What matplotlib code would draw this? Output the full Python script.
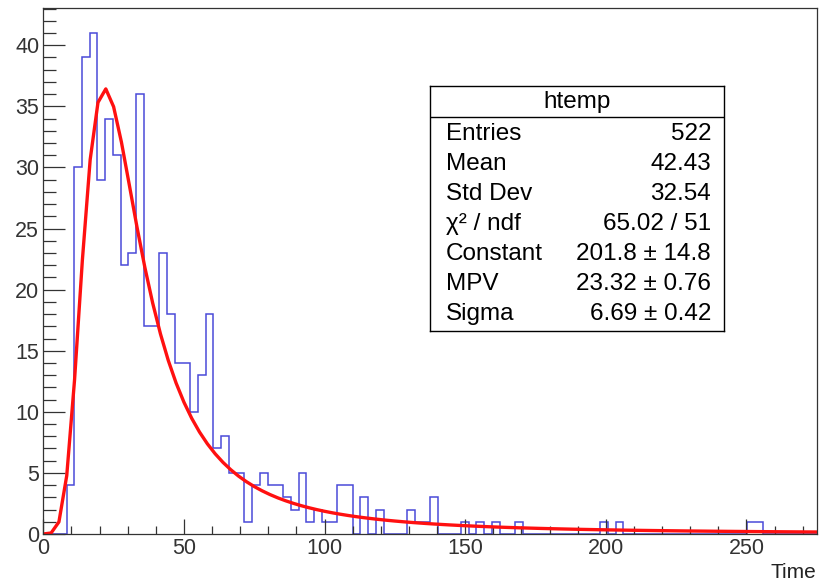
import numpy as np
import matplotlib
matplotlib.use('Agg')
import matplotlib.pyplot as plt
from matplotlib.ticker import MultipleLocator

plt.rcParams['font.family'] = ['Liberation Sans', 'DejaVu Sans']

# histogram "htemp": 100 bins over [0, 275]
x_min, x_max, n_bins = 0.0, 275.0, 100
counts = [0, 0, 0, 4, 30, 39, 41, 29, 34, 31,
          22, 23, 36, 17, 17, 23, 18, 14, 14, 10,
          13, 18, 7, 8, 5, 5, 1, 4, 5, 4,
          4, 3, 2, 5, 1, 2, 1, 1, 4, 4,
          0, 3, 0, 2, 0, 0, 0, 2, 1, 1,
          3, 0, 0, 0, 1, 0, 1, 0, 1, 0,
          0, 1, 0, 0, 0, 0, 0, 0, 0, 0,
          0, 0, 1, 0, 1, 0, 0, 0, 0, 0,
          0, 0, 0, 0, 0, 0, 0, 0, 0, 0,
          0, 1, 1, 0, 0, 0, 0, 0, 0, 0]

# landau fit result
fit_const, fit_mpv, fit_sigma = 201.8, 23.32, 6.69

stat_names = ['Entries', 'Mean', 'Std Dev', 'χ² / ndf', 'Constant', 'MPV', 'Sigma']
stat_values = ['522', '42.43', '32.54', '65.02 / 51',
               '201.8 ± 14.8', '23.32 ± 0.76', '6.69 ± 0.42']


def landau(lam):
    # standard Landau density, inverse Laplace integral along Re(s)=c (saddle point)
    out = []
    for l in np.atleast_1d(lam):
        c = np.exp(-1.0 - l)
        y = np.linspace(0, 40 + 8 * c, 40001)
        s = c + 1j * y
        f = np.exp(s * np.log(s) + l * s).real
        out.append(np.trapezoid(f, y) / np.pi)
    return np.array(out)


edges = np.linspace(x_min, x_max, n_bins + 1)
xf = np.linspace(x_min, x_max, 100)
yf = fit_const * landau((xf - fit_mpv) / fit_sigma)

fig = plt.figure(figsize=(8.27, 5.83), dpi=100)
ax = fig.add_axes([43.3 / 827, 1 - 534 / 583, 773.4 / 827, 526 / 583])

ax.stairs(counts, edges, color='#4a4ad8', linewidth=1.1)
ax.plot(xf, yf, color='#ff1010', linewidth=2.4)

ax.set_xlim(x_min, x_max)
ax.set_ylim(0, 1.05 * max(counts))
ax.xaxis.set_major_locator(MultipleLocator(50))
ax.xaxis.set_minor_locator(MultipleLocator(10))
ax.yaxis.set_major_locator(MultipleLocator(5))
ax.yaxis.set_minor_locator(MultipleLocator(1))
ax.tick_params(axis='both', which='both', direction='in', top=False, right=False,
               labelsize=15.5, colors='#333333', width=0.9)
ax.tick_params(axis='x', which='major', length=11, pad=3)
ax.tick_params(axis='x', which='minor', length=5.5)
ax.tick_params(axis='y', which='major', length=16, pad=3)
ax.tick_params(axis='y', which='minor', length=9)
for sp in ax.spines.values():
    sp.set_linewidth(0.9)
    sp.set_color('#333333')
ax.set_xlabel('Time', loc='right', fontsize=15, labelpad=3, color='#222222')

# stats box
bx = fig.add_axes([430 / 827, 1 - 331 / 583, 294 / 827, 245 / 583])
bx.set_xticks([])
bx.set_yticks([])
for sp in bx.spines.values():
    sp.set_linewidth(1.0)
    sp.set_color('black')
bx.set_xlim(430, 724)
bx.set_ylim(331, 86)
bx.axhline(117, color='black', linewidth=1.0)
bx.text(577, 102, 'htemp', ha='center', va='center', fontsize=17.5)
for i, (name, val) in enumerate(zip(stat_names, stat_values)):
    yy = 134 + 30 * i
    bx.text(446, yy, name, ha='left', va='center', fontsize=17.5)
    bx.text(711, yy, val, ha='right', va='center', fontsize=17.5)

fig.savefig('out.png', dpi=100)
